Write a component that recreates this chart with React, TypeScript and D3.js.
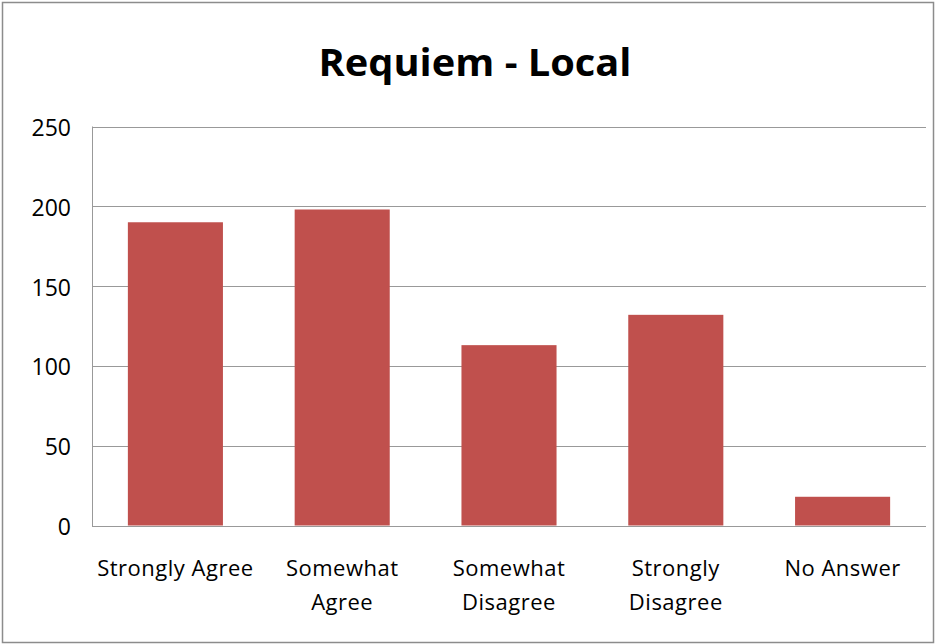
import React from "react";
import * as d3 from "d3";

const title = "Requiem - Local";
const categories = ["Strongly Agree", "Somewhat\nAgree", "Somewhat\nDisagree", "Strongly\nDisagree", "No Answer"];
const values = [190, 198, 113, 132, 18];
const yTicks = [0, 50, 100, 150, 200, 250];

const W = 936;
const H = 644;
const margin = { left: 92, right: 10, top: 126.5, bottom: 118.5 };

export default function App() {
  const x = d3
    .scaleBand<string>()
    .domain(categories)
    .range([margin.left, W - margin.right])
    .paddingInner(0.43)
    .paddingOuter(0.215);
  const y = d3.scaleLinear().domain([0, 250]).range([H - margin.bottom, margin.top]);
  const band = (W - margin.right - margin.left) / categories.length;
  const font = "'Open Sans', sans-serif";

  return (
    <svg
      width={W}
      height={H}
      style={{ position: "absolute", left: 0, top: 0, background: "#fff" }}
    >
      <rect x={2.5} y={2.5} width={931} height={640} fill="#fff" stroke="#8c8c8c" strokeWidth={1.5} />
      <text
        x={475}
        y={76}
        textAnchor="middle"
        fontFamily={font}
        fontWeight="bold"
        fontSize={38}
        textLength={313}
        lengthAdjust="spacingAndGlyphs"
        fill="#000"
      >
        {title}
      </text>
      {yTicks.map((t) => (
        <g key={t}>
          <line
            x1={margin.left}
            x2={W - margin.right}
            y1={Math.round(y(t)) + 0.5}
            y2={Math.round(y(t)) + 0.5}
            stroke="#999"
            strokeWidth={1}
          />
          <text
            x={71}
            y={y(t) + 9.5}
            textAnchor="end"
            fontFamily={font}
            fontSize={23}
            fill="#000"
          >
            {t}
          </text>
        </g>
      ))}
      <line x1={margin.left + 0.5} x2={margin.left + 0.5} y1={y(250)} y2={y(0) + 1} stroke="#999" />
      {categories.map((c, i) => (
        <rect
          key={c}
          x={x(c)}
          y={y(values[i])}
          width={x.bandwidth()}
          height={y(0) - y(values[i])}
          fill="#C0504D"
        />
      ))}
      <line x1={margin.left} x2={W - margin.right} y1={Math.round(y(0)) + 0.5} y2={Math.round(y(0)) + 0.5} stroke="#999" />
      {categories.map((c, i) => {
        const cx = margin.left + band * (i + 0.5);
        return (
          <text
            key={c}
            x={cx}
            y={575.5}
            textAnchor="middle"
            fontFamily={font}
            fontSize={22}
            letterSpacing={0.5}
            fill="#000"
          >
            {c.split("\n").map((line, j) => (
              <tspan key={j} x={cx} dy={j === 0 ? 0 : 34}>
                {line}
              </tspan>
            ))}
          </text>
        );
      })}
    </svg>
  );
}
